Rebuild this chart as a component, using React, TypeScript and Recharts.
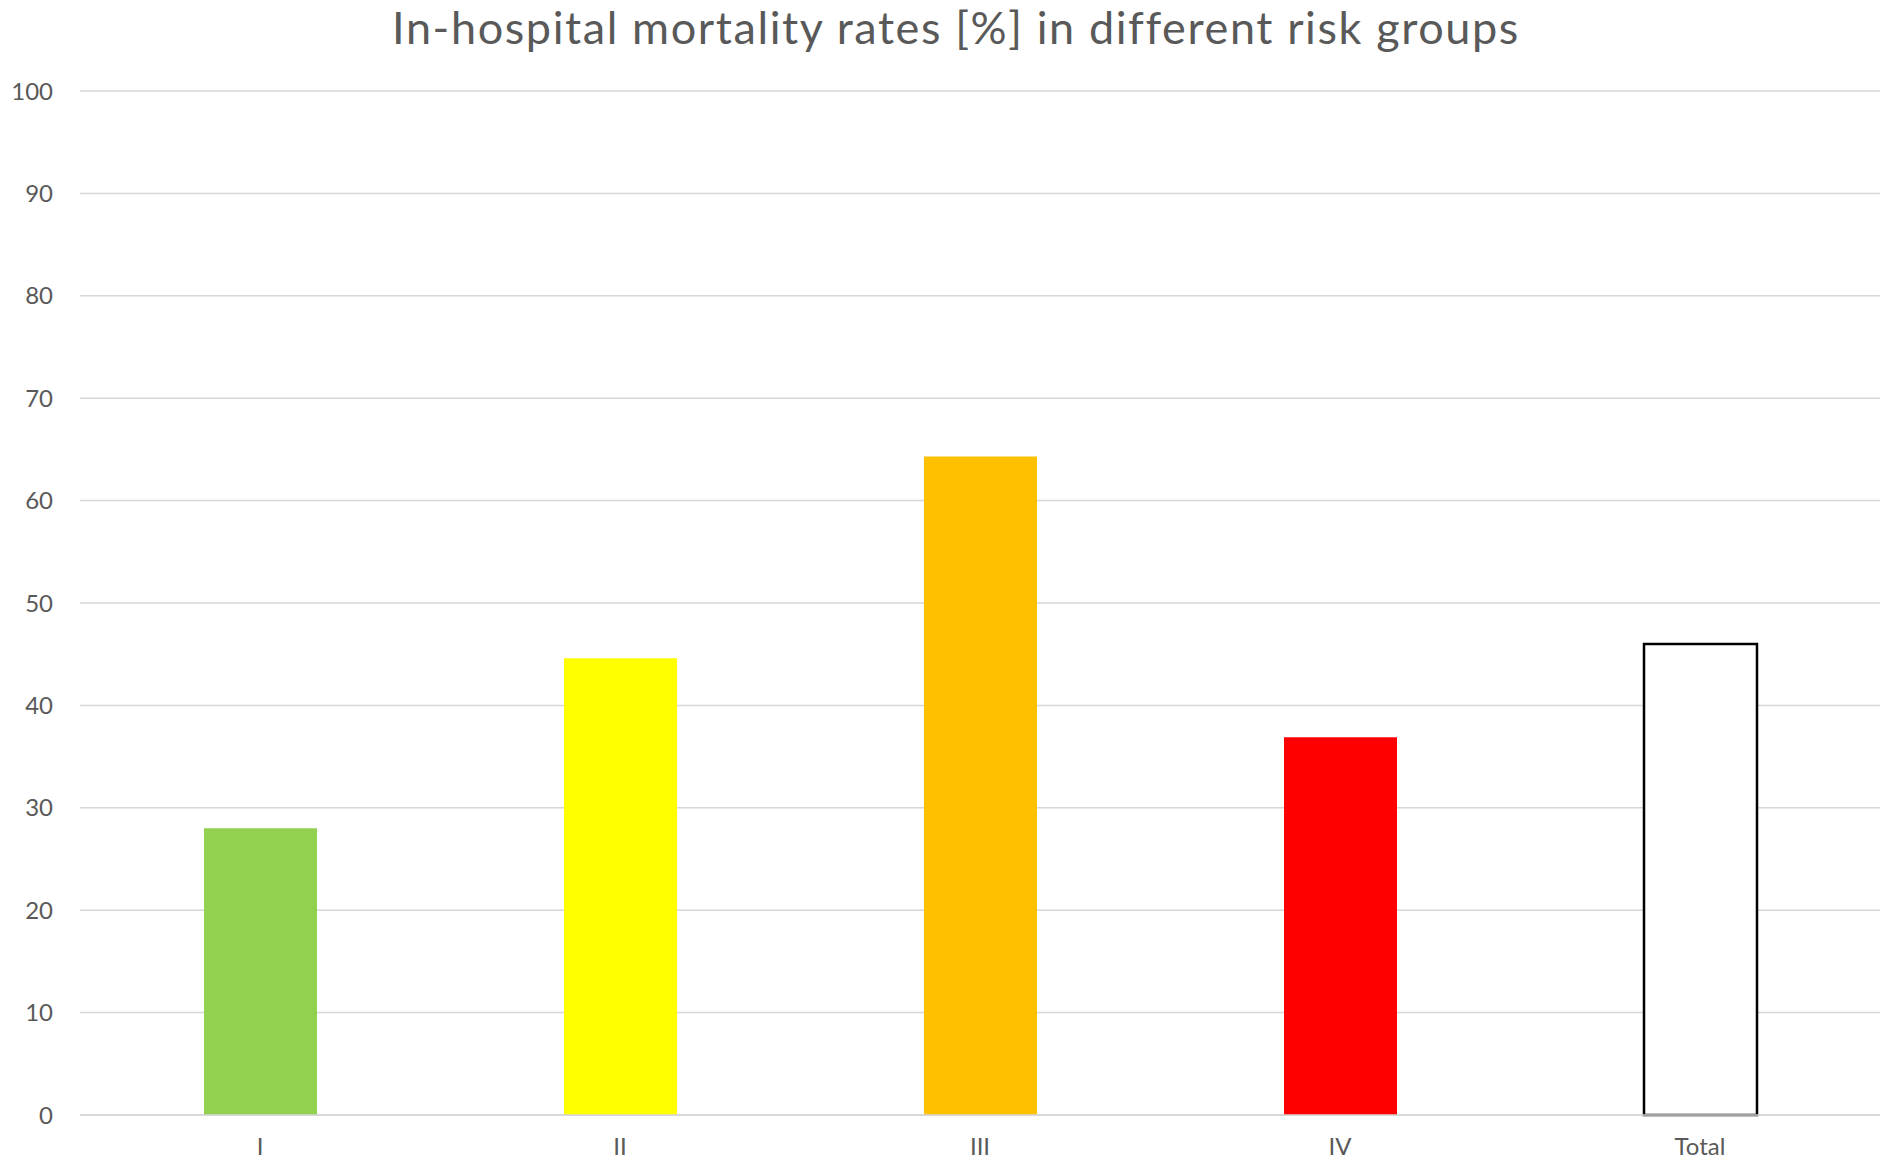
import { BarChart, Bar, XAxis, YAxis, CartesianGrid, Cell } from "recharts"

const groups = ["I", "II", "III", "IV", "Total"]
const mortality = [28, 44.6, 64.3, 36.9, 46]
const yTicks = [0, 10, 20, 30, 40, 50, 60, 70, 80, 90, 100]

const FILLS = ["#92D050", "#FFFF00", "#FFC000", "#FF0000", "#FFFFFF"]
const STROKES = ["none", "none", "none", "none", "#000000"]

const data = groups.map((g, i) => ({ group: g, value: mortality[i] }))

const FONT = "Lato, 'Open Sans', sans-serif"
const GRID = "#d6d6d6"
const TEXT = "#595959"

export default function App() {
  return (
    <div style={{ position: "absolute", left: 0, top: 0, width: 1900, height: 1160, background: "#fff" }}>
      <div
        style={{
          position: "absolute",
          left: 956,
          top: 0,
          transform: "translateX(-50%)",
          whiteSpace: "nowrap",
          fontFamily: FONT,
          fontSize: 45,
          letterSpacing: 1.6,
          lineHeight: "normal",
          color: TEXT,
        }}
      >
        In-hospital mortality rates [%] in different risk groups
      </div>
      <BarChart
        width={1900}
        height={1160}
        data={data}
        margin={{ top: 91, right: 20, bottom: 0, left: 0 }}
        barCategoryGap="0%"
      >
        <CartesianGrid vertical={false} stroke={GRID} strokeWidth={1.5} />
        <XAxis
          dataKey="group"
          height={45}
          axisLine={{ stroke: GRID, strokeWidth: 1.5 }}
          tickLine={false}
          tickSize={0}
          tickMargin={23}
          tick={{ fill: TEXT, fontSize: 24, fontFamily: FONT }}
        />
        <YAxis
          width={80}
          domain={[0, 100]}
          ticks={yTicks}
          axisLine={false}
          tickLine={false}
          tickSize={0}
          tickMargin={27}
          tick={{ fill: TEXT, fontSize: 24, fontFamily: FONT }}
        />
        <Bar dataKey="value" barSize={113} isAnimationActive={false}>
          {data.map((d, i) => (
            <Cell
              key={d.group}
              fill={FILLS[i]}
              stroke={STROKES[i]}
              strokeWidth={STROKES[i] === "none" ? 0 : 2.5}
            />
          ))}
        </Bar>
      </BarChart>
    </div>
  )
}
